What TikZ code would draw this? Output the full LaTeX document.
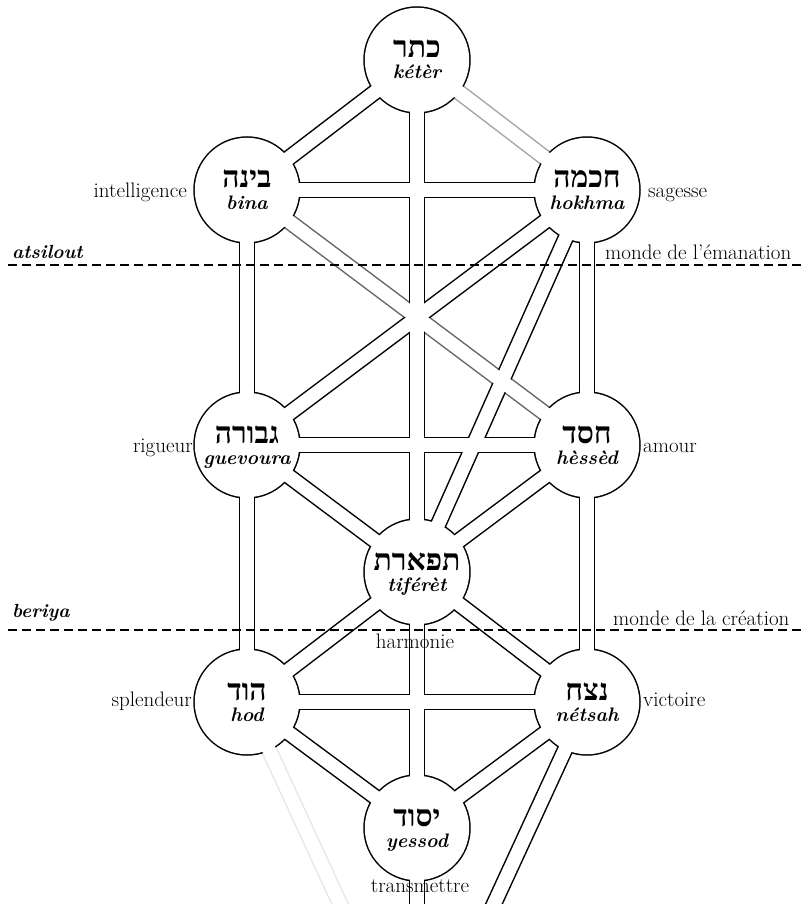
\documentclass[tikz,border=0pt]{standalone}
\usepackage{fontspec}
\newfontfamily\hebfont[Script=Hebrew]{Liberation Serif}
\TeXXeTstate=1
\begin{document}
\begin{tikzpicture}[x=1pt,y=-1pt,
  sefira/.style={circle, minimum size=105pt, inner sep=0pt},
  chanedge/.style={line width=16.5pt},
  chanfill/.style={line width=13.5pt, white},
  hebname/.style={font=\hebfont\bfseries\fontsize{30}{30}\selectfont, anchor=base, inner sep=0pt, text depth=0pt},
  translit/.style={font=\bfseries\itshape\fontsize{19.5}{20}\selectfont, anchor=base, inner sep=0pt, text height=13.5pt},
  gloss/.style={font=\fontsize{21}{22}\selectfont, inner sep=0pt},
  world/.style={line width=2pt, dash pattern=on 9pt off 5pt},
  worldname/.style={font=\bfseries\itshape\fontsize{19}{20}\selectfont, anchor=base west, inner sep=0pt}
]
\useasboundingbox (0,0) rectangle (803,904);
\clip (0,0) rectangle (803,904);

% the ten sefirot (malkhut lies below the page)
\foreach \n/\x/\y in {keter/417/60, bina/247/190, hokhma/587/190,
    guevoura/247/445, hessed/587/445, tiferet/417/572,
    hod/247/702, netsah/587/702, yessod/417/828}
  \node[sefira] (\n) at (\x,\y) {};
\coordinate (malkhut) at (417,1071);

\def\channels{keter/bina, keter/tiferet, bina/hokhma, bina/guevoura,
  hokhma/guevoura, hokhma/tiferet, hokhma/hessed, guevoura/hessed,
  guevoura/tiferet, hessed/tiferet, guevoura/hod, hessed/netsah,
  tiferet/hod, tiferet/netsah, tiferet/yessod, hod/netsah,
  hod/yessod, netsah/yessod, yessod/malkhut, netsah/malkhut}

% channel edges and circle rims
\draw[chanedge, black!9] (hod.center) -- (malkhut);
\draw[chanedge, black!35] (keter.center) -- (hokhma.center);
\draw[chanedge, black!60] (bina.center) -- (hessed.center);
\foreach \a/\b in \channels
  \draw[chanedge] (\a.center) -- (\b.center);
\foreach \n in {keter,bina,hokhma,guevoura,hessed,tiferet,hod,netsah,yessod}
  \fill (\n) circle[radius=53.75pt];

% channel interiors, merged at every crossing
\draw[chanfill] (hod.center) -- (malkhut);
\draw[chanfill] (keter.center) -- (hokhma.center);
\draw[chanfill] (bina.center) -- (hessed.center);
\foreach \a/\b in \channels
  \draw[chanfill] (\a.center) -- (\b.center);
\foreach \n in {keter,bina,hokhma,guevoura,hessed,tiferet,hod,netsah,yessod}
  \fill[white] (\n) circle[radius=52.25pt];

% names inside the circles
\foreach \n/\h/\t in {keter/כתר/kétèr, bina/בינה/bina, hokhma/חכמה/hokhma,
    guevoura/גבורה/guevoura, hessed/חסד/hèssèd, tiferet/תפארת/tiférèt,
    hod/הוד/hod, netsah/נצח/nétsah, yessod/יסוד/yessod} {
  \node[hebname] (\n-heb) at ([yshift=2pt]\n) {\beginR\h\endR};
  \node[translit] (\n-tr) at ([yshift=-19pt]\n) {\t};
}

% boundaries of the worlds
\draw[world] (8,265) -- (803,265);
\draw[world] (8,630) -- (803,630);
\node[worldname] (atsilout) at (12,258) {atsilout};
\node[worldname] (beriya) at (12,617) {beriya};
\node[gloss, anchor=base west] (emanation) at (605,259) {monde de l'émanation};
\node[gloss, anchor=base west] (creation) at (613,625) {monde de la création};

% attributes
\node[gloss, anchor=base east] (intelligence) at (187,197) {intelligence};
\node[gloss, anchor=base west] (sagesse) at (648,197) {sagesse};
\node[gloss, anchor=base east] (rigueur) at (193,452) {rigueur};
\node[gloss, anchor=base west] (amour) at (643,452) {amour};
\node[gloss, anchor=base east] (splendeur) at (192,706) {splendeur};
\node[gloss, anchor=base west] (victoire) at (643,706) {victoire};
\node[gloss, anchor=base] (harmonie) at (415,648) {harmonie};
\node[gloss, anchor=base] (transmettre) at (420,892) {transmettre};
\end{tikzpicture}
\end{document}
